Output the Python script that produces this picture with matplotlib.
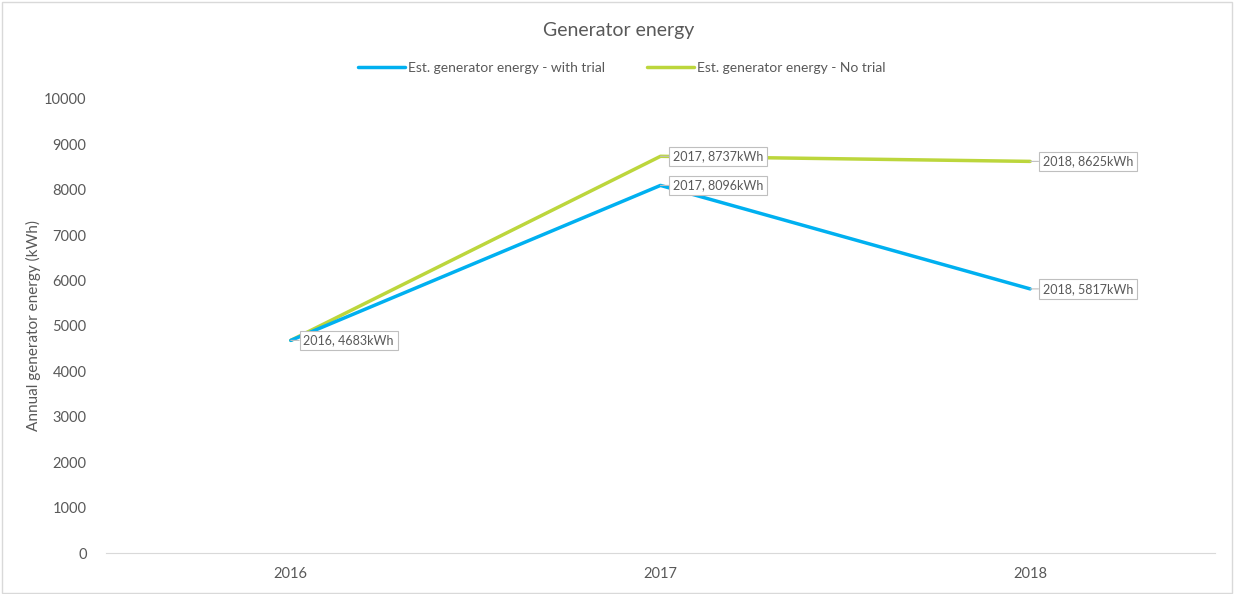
import matplotlib.pyplot as plt
from matplotlib.patches import Rectangle

years = ["2016", "2017", "2018"]
with_trial = [4683, 8096, 5817]
no_trial = [4683, 8737, 8625]
# which points carry a data label, per series
with_trial_labels = [True, True, True]
no_trial_labels = [False, True, True]

plt.rcParams["font.family"] = ["Lato", "DejaVu Sans"]
text_grey = "#595959"
blue = "#00B0F0"
green = "#BCD63C"

fig = plt.figure(figsize=(12.38, 5.94), dpi=100)
ax = fig.add_axes([0.0856, 0.069, 0.8958, 0.7644])

# outer chart border
fig.patches.append(Rectangle((0.002, 0.002), 0.993, 0.994, transform=fig.transFigure,
                             fill=False, edgecolor="#D9D9D9", linewidth=1))

x = list(range(len(years)))
ax.plot(x, with_trial, color=blue, linewidth=2.5, label="Est. generator energy - with trial",
        solid_capstyle="round", zorder=3)
ax.plot(x, no_trial, color=green, linewidth=2.5, label="Est. generator energy - No trial",
        solid_capstyle="round", zorder=2)


def add_labels(values, flags):
    for xi, (v, show) in enumerate(zip(values, flags)):
        if not show:
            continue
        ax.annotate(f"{years[xi]}, {v}kWh", xy=(xi, v), xytext=(9, 0),
                    textcoords="offset points", ha="left", va="center",
                    fontsize=9, color=text_grey, zorder=5,
                    bbox=dict(boxstyle="square,pad=0.3", fc="white", ec="#BFBFBF", lw=0.8),
                    arrowprops=dict(arrowstyle="-", color="#BFBFBF", lw=0.8,
                                    shrinkA=0, shrinkB=0))


add_labels(with_trial, with_trial_labels)
add_labels(no_trial, no_trial_labels)

ax.set_xlim(-0.5, 2.5)
ax.set_ylim(0, 10000)
ax.set_yticks(range(0, 10001, 1000))
ax.set_xticks(x)
ax.set_xticklabels(years)
ax.tick_params(axis="both", length=0, colors=text_grey, labelsize=10.5)
ax.tick_params(axis="y", pad=14)
ax.tick_params(axis="x", pad=10)

for side in ["top", "right", "left"]:
    ax.spines[side].set_visible(False)
ax.spines["bottom"].set_color("#D9D9D9")

ax.set_ylabel("Annual generator energy (kWh)", color=text_grey, fontsize=11, labelpad=2)

fig.text(0.5, 0.948, "Generator energy", ha="center", va="center", fontsize=14, color=text_grey)
fig.legend(loc="center", bbox_to_anchor=(0.502, 0.886), ncol=2, frameon=False,
           fontsize=10, labelcolor=text_grey, handlelength=3.4, handletextpad=0.2,
           columnspacing=3.0)

fig.savefig("out.png", dpi=100)
